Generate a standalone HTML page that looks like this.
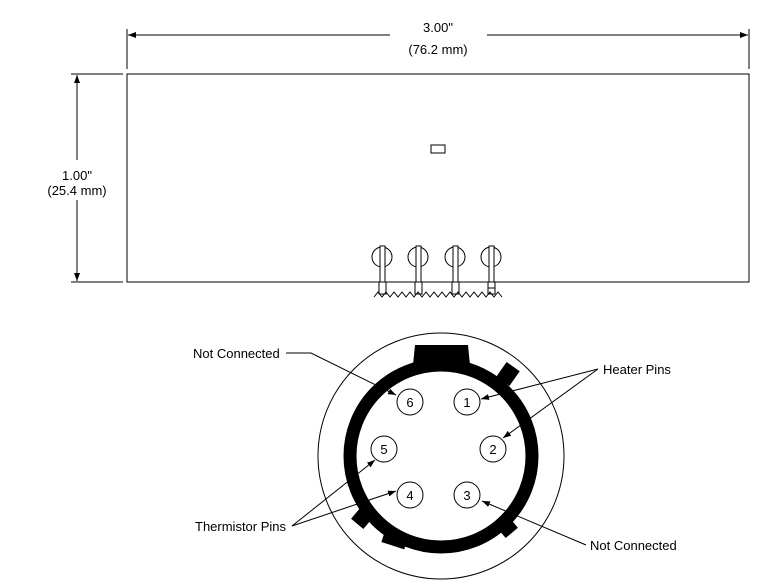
<!DOCTYPE html>
<html><head><style>body{margin:0;background:#fff}svg{display:block}text{font-family:"Liberation Sans",sans-serif;font-size:13px;fill:#000}</style></head><body>
<svg width="780" height="588" viewBox="0 0 780 588">
<defs><marker id="a" markerWidth="8" markerHeight="6" refX="8" refY="3" orient="auto" markerUnits="userSpaceOnUse"><path d="M0,0L8,3L0,6z" fill="#000"/></marker></defs>
<g stroke="#000" fill="none" stroke-width="1">
<!-- top dimension -->
<line x1="127" y1="29" x2="127" y2="69"/><line x1="749" y1="29" x2="749" y2="69"/>
<line x1="390" y1="35" x2="128" y2="35" marker-end="url(#a)"/>
<line x1="487" y1="35" x2="748" y2="35" marker-end="url(#a)"/>
<!-- left dimension -->
<line x1="71" y1="74" x2="123" y2="74"/><line x1="71" y1="282" x2="123" y2="282"/>
<line x1="77" y1="160" x2="77" y2="75" marker-end="url(#a)"/>
<line x1="77" y1="200" x2="77" y2="281" marker-end="url(#a)"/>
<rect x="127" y="74" width="622" height="208"/>
<rect x="431" y="145" width="14" height="8"/>
<!-- pins -->
<g>
<circle cx="382" cy="257" r="10"/><rect x="380" y="246" width="5" height="36" fill="#fff"/><rect x="379" y="282" width="7" height="12" fill="#fff"/>
<circle cx="418" cy="257" r="10"/><rect x="416" y="246" width="5" height="36" fill="#fff"/><rect x="415" y="282" width="7" height="12" fill="#fff"/>
<circle cx="455" cy="257" r="10"/><rect x="453" y="246" width="5" height="36" fill="#fff"/><rect x="452" y="282" width="7" height="12" fill="#fff"/>
<circle cx="491" cy="257" r="10"/><rect x="489" y="246" width="5" height="36" fill="#fff"/><rect x="488" y="282" width="7" height="12" fill="#fff"/><line x1="488" y1="288" x2="495" y2="288"/>
<polyline points="374,297 378,292 382,297 386,292 390,297 394,292 398,297 402,292 406,297 410,292 414,297 418,292 422,297 426,292 430,297 434,292 438,297 442,292 446,297 450,292 454,297 458,292 462,297 466,292 470,297 474,292 478,297 482,292 486,297 490,292 494,297 498,292 502,297"/>
</g>
<!-- connector -->
<circle cx="441" cy="456" r="123"/>
<circle cx="441" cy="456" r="91" stroke-width="13"/>
<g fill="#000" stroke="none">
<path d="M413,365 L415,345 L468,345 L470,365 Z"/>
<rect x="500" y="365" width="16" height="18" transform="rotate(35 508 374)"/>
<rect x="498" y="517" width="16" height="18" transform="rotate(-40 506 526)"/>
<rect x="355" y="508" width="16" height="18" transform="rotate(40 363 517)"/>
<rect x="383" y="532" width="24" height="14" transform="rotate(18 395 539)"/>
</g>
<g fill="#fff">
<circle cx="410" cy="402" r="13"/><circle cx="467" cy="402" r="13"/>
<circle cx="384" cy="449" r="13"/><circle cx="493" cy="449" r="13"/>
<circle cx="410" cy="495" r="13"/><circle cx="467" cy="495" r="13"/>
</g>
<!-- leaders -->
<polyline points="286,353 311,353 396,395" marker-end="url(#a)"/>
<line x1="598" y1="369" x2="481" y2="399" marker-end="url(#a)"/>
<line x1="598" y1="369" x2="503" y2="438" marker-end="url(#a)"/>
<line x1="292" y1="526" x2="396" y2="491" marker-end="url(#a)"/>
<line x1="292" y1="526" x2="375" y2="460" marker-end="url(#a)"/>
<line x1="586" y1="545" x2="482" y2="501" marker-end="url(#a)"/>
</g>
<g text-anchor="middle">
<text x="438" y="32">3.00"</text><text x="438" y="54">(76.2 mm)</text>
<text x="77" y="180">1.00"</text><text x="77" y="195">(25.4 mm)</text>
<text x="410" y="407">6</text><text x="467" y="407">1</text>
<text x="384" y="454">5</text><text x="493" y="454">2</text>
<text x="410" y="500">4</text><text x="467" y="500">3</text>
</g>
<text x="193" y="358">Not Connected</text>
<text x="603" y="374">Heater Pins</text>
<text x="195" y="531">Thermistor Pins</text>
<text x="590" y="550">Not Connected</text>
</svg>
</body></html>
